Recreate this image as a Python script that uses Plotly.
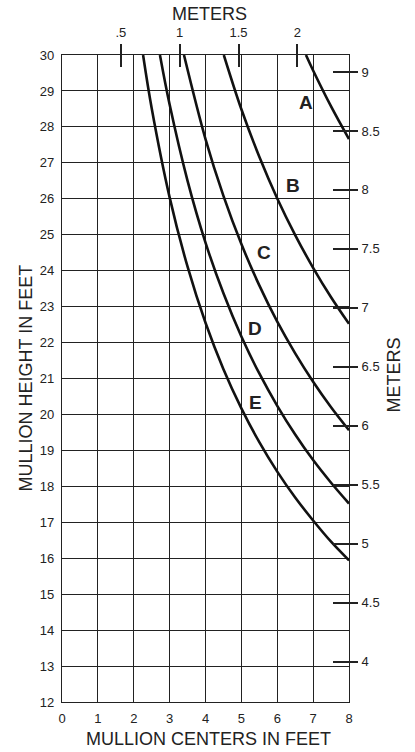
import plotly.graph_objects as go

# ---- data ----
# mullion centers (ft) and mullion heights (ft) for each curve
curve_A_x = [6.8, 7.0, 7.5, 8.0]
curve_A_y = [30.0, 29.57, 28.57, 27.66]
curve_B_x = [4.51, 5.0, 5.5, 6.0, 6.5, 7.0, 7.5, 8.0]
curve_B_y = [30.0, 28.49, 27.17, 26.01, 24.99, 24.08, 23.26, 22.52]
curve_C_x = [3.4, 4.0, 4.5, 5.0, 5.5, 6.0, 6.5, 7.0, 7.5, 8.0]
curve_C_y = [30.0, 27.66, 26.08, 24.74, 23.59, 22.58, 21.70, 20.91, 20.20, 19.56]
curve_D_x = [2.73, 3.0, 3.5, 4.0, 4.5, 5.0, 5.5, 6.0, 6.5, 7.0, 7.5, 8.0]
curve_D_y = [30.0, 28.62, 26.50, 24.78, 23.37, 22.17, 21.14, 20.24, 19.44, 18.73, 18.10, 17.52]
curve_E_x = [2.26, 2.5, 3.0, 3.5, 4.0, 4.5, 5.0, 5.5, 6.0, 6.5, 7.0, 7.5, 8.0]
curve_E_y = [30.0, 28.52, 26.04, 24.11, 22.55, 21.26, 20.17, 19.23, 18.41, 17.69, 17.05, 16.46, 15.94]
curve_names = ["A", "B", "C", "D", "E"]

feet_x_ticks = [0, 1, 2, 3, 4, 5, 6, 7, 8]
feet_y_ticks = list(range(12, 31))
meter_top_ticks = [0.5, 1, 1.5, 2]
meter_top_labels = [".5", "1", "1.5", "2"]
meter_right_ticks = [4, 4.5, 5, 5.5, 6, 6.5, 7, 7.5, 8, 8.5, 9]
meter_right_labels = ["4", "4.5", "5", "5.5", "6", "6.5", "7", "7.5", "8", "8.5", "9"]
FT_PER_M = 0.3048

# label anchor positions (in feet)
label_pos = {"A": (6.8, 28.69), "B": (6.45, 26.36), "C": (5.62, 24.5),
             "D": (5.39, 22.38), "E": (5.38, 20.32)}

FONT = "Liberation Sans, Arial, Helvetica, sans-serif"
INK = "#222222"

fig = go.Figure()
curves = [(curve_A_x, curve_A_y), (curve_B_x, curve_B_y), (curve_C_x, curve_C_y),
          (curve_D_x, curve_D_y), (curve_E_x, curve_E_y)]
for name, (xs, ys) in zip(curve_names, curves):
    fig.add_trace(go.Scatter(x=xs, y=ys, mode="lines", name=name,
                             line=dict(color="#111111", width=2.6, shape="spline"),
                             showlegend=False, hoverinfo="skip"))

# dummy traces so the metric axes exist
fig.add_trace(go.Scatter(x=[None], y=[None], xaxis="x2", yaxis="y2", showlegend=False, hoverinfo="skip"))
fig.add_trace(go.Scatter(x=[None], y=[None], xaxis="x3", yaxis="y3", showlegend=False, hoverinfo="skip"))

tickfont = dict(family=FONT, size=13, color="#222222")

fig.update_layout(
    width=415, height=752,
    margin=dict(l=62, r=66, t=55, b=50),
    paper_bgcolor="white", plot_bgcolor="white",
    font=dict(family=FONT, color="#222222"),
    xaxis=dict(range=[0, 8], tickvals=feet_x_ticks, showgrid=True, gridcolor=INK, gridwidth=1.4,
               showline=True, linecolor=INK, linewidth=1.4, mirror=True, zeroline=False,
               ticks="", tickfont=tickfont, ticklabelstandoff=4, fixedrange=True, automargin=False),
    yaxis=dict(range=[12, 30], tickvals=feet_y_ticks, showgrid=True, gridcolor=INK, gridwidth=1.4,
               showline=True, linecolor=INK, linewidth=1.4, mirror=True, zeroline=False,
               ticks="", tickfont=tickfont, ticklabelstandoff=4, fixedrange=True, automargin=False),
    xaxis2=dict(overlaying="x", side="top", anchor="y", range=[0, 8 * FT_PER_M],
                tickvals=meter_top_ticks, ticktext=meter_top_labels, ticks="outside",
                ticklen=10, tickwidth=1.5, tickcolor=INK, showgrid=False, zeroline=False,
                showline=False, tickfont=tickfont, ticklabelstandoff=2, fixedrange=True,
                automargin=False),
    yaxis2=dict(overlaying="y", side="right", anchor="x", range=[12 * FT_PER_M, 30 * FT_PER_M],
                tickvals=meter_right_ticks, ticktext=meter_right_labels, ticks="outside",
                ticklen=8, tickwidth=1.5, tickcolor=INK, showgrid=False, zeroline=False,
                showline=False, tickfont=tickfont, ticklabelstandoff=1, fixedrange=True,
                automargin=False),
    xaxis3=dict(overlaying="x", side="top", anchor="y", range=[0, 8 * FT_PER_M],
                tickvals=meter_top_ticks, ticks="inside", ticklen=12, tickwidth=1.5,
                tickcolor=INK, showticklabels=False, showgrid=False, zeroline=False,
                showline=False, fixedrange=True, automargin=False),
    yaxis3=dict(overlaying="y", side="right", anchor="x", range=[12 * FT_PER_M, 30 * FT_PER_M],
                tickvals=meter_right_ticks, ticks="inside", ticklen=16, tickwidth=1.5,
                tickcolor=INK, showticklabels=False, showgrid=False, zeroline=False,
                showline=False, fixedrange=True, automargin=False),
)

titlefont = dict(family=FONT, size=18, color="#222222")
annotations = [
    dict(text="METERS", xref="paper", yref="paper", x=0.5, y=1, xshift=4, yshift=41,
         xanchor="center", yanchor="middle", showarrow=False, font=titlefont),
    dict(text="MULLION CENTERS IN FEET", xref="paper", yref="paper", x=0.5, y=0, xshift=3,
         yshift=-37, xanchor="center", yanchor="middle", showarrow=False, font=titlefont),
    dict(text="MULLION HEIGHT IN FEET", xref="paper", yref="paper", x=0, y=0.5, xshift=-37,
         xanchor="center", yanchor="middle", textangle=-90, showarrow=False, font=titlefont),
    dict(text="METERS", xref="paper", yref="paper", x=1, y=0.5, xshift=44, yshift=3,
         xanchor="center", yanchor="middle", textangle=-90, showarrow=False, font=titlefont),
]
for name in curve_names:
    lx, ly = label_pos[name]
    annotations.append(dict(text="<b>%s</b>" % name, x=lx, y=ly, xref="x", yref="y",
                            xanchor="center", yanchor="middle", showarrow=False,
                            font=dict(family=FONT, size=19, color="#222222")))
fig.update_layout(annotations=annotations)

fig.write_html("out.html", config={"displayModeBar": False},
               post_script="document.body.style.margin='0px';document.body.style.overflow='hidden';")
